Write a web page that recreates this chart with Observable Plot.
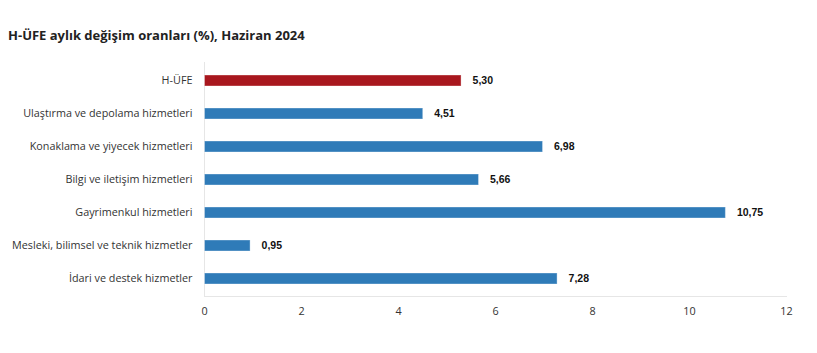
<!DOCTYPE html>
<html>
<head>
<meta charset="utf-8">
<script src="https://cdn.jsdelivr.net/npm/d3@7"></script>
<script src="https://cdn.jsdelivr.net/npm/@observablehq/plot@0.6"></script>
<style>
  body { margin: 0; background: #fff; width: 817px; height: 353px; position: relative; overflow: hidden; }
  #title { position: absolute; left: 8px; top: 26px; font-family: "Open Sans", sans-serif; font-weight: 700; font-size: 13px; color: #222; }
  #chart { position: absolute; left: 0; top: 0; }
</style>
</head>
<body>
<div id="title">H-ÜFE aylık değişim oranları (%), Haziran 2024</div>
<div id="chart"></div>
<script>
const categories = [
  "H-ÜFE",
  "Ulaştırma ve depolama hizmetleri",
  "Konaklama ve yiyecek hizmetleri",
  "Bilgi ve iletişim hizmetleri",
  "Gayrimenkul hizmetleri",
  "Mesleki, bilimsel ve teknik hizmetler",
  "İdari ve destek hizmetler"
];
const values = [5.30, 4.51, 6.98, 5.66, 10.75, 0.95, 7.28];
const colors = ["#a8171e", "#2f7bb8", "#2f7bb8", "#2f7bb8", "#2f7bb8", "#2f7bb8", "#2f7bb8"];
const xTicks = [0, 2, 4, 6, 8, 10, 12];

const data = categories.map((c, i) => ({cat: c, value: values[i], color: colors[i]}));
const fmt = v => v.toFixed(2).replace(".", ",");

const chart = Plot.plot({
  width: 817,
  height: 353,
  marginTop: 62,
  marginBottom: 57,
  marginLeft: 204,
  marginRight: 31,
  style: {fontFamily: "'Open Sans', sans-serif", fontSize: "10.8px", color: "#333", background: "transparent"},
  x: {domain: [0, 12], ticks: xTicks, label: null, tickSize: 0, tickPadding: 11, tickFormat: d => String(d)},
  y: {domain: categories, label: null, paddingInner: 0.67, paddingOuter: 0.335, tickSize: 0, tickPadding: 12},
  marks: [
    Plot.frame({anchor: "bottom", stroke: "#e6e6e6"}),
    Plot.ruleX([0], {stroke: "#e6e6e6"}),
    Plot.barX(data, {x: "value", y: "cat", fill: "color", stroke: "#ffffff", strokeOpacity: 0.35, insetLeft: 0.5}),
    Plot.text(data, {x: "value", y: "cat", text: d => fmt(d.value), textAnchor: "start", dx: 11, fontWeight: "bold", fontSize: 10.5, fill: "#111", fontFamily: "'Liberation Sans', Arial, sans-serif"})
  ]
});
document.getElementById("chart").appendChild(chart);
</script>
</body>
</html>
